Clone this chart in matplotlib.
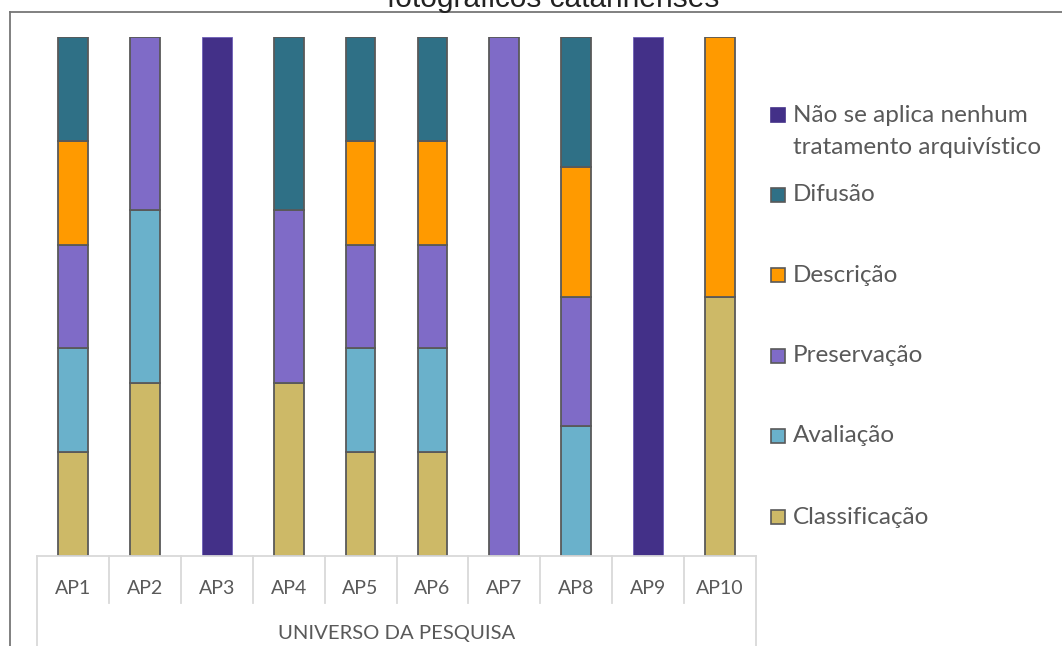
import numpy as np
import matplotlib
matplotlib.use("Agg")
import matplotlib.pyplot as plt
from matplotlib.patches import Rectangle
from matplotlib.lines import Line2D

# Tratamentos arquivísticos aplicados em cada acervo (1 = aplicado)
categories = ["AP1", "AP2", "AP3", "AP4", "AP5", "AP6", "AP7", "AP8", "AP9", "AP10"]
classificacao = [1, 1, 0, 1, 1, 1, 0, 0, 0, 1]
avaliacao = [1, 1, 0, 0, 1, 1, 0, 1, 0, 0]
preservacao = [1, 1, 0, 1, 1, 1, 1, 1, 0, 0]
descricao = [1, 0, 0, 0, 1, 1, 0, 1, 0, 1]
difusao = [1, 0, 0, 1, 1, 1, 0, 1, 0, 0]
nao_se_aplica = [0, 0, 1, 0, 0, 0, 0, 0, 1, 0]

series_names = ["Classificação", "Avaliação", "Preservação", "Descrição",
                "Difusão", "Não se aplica nenhum\ntratamento arquivístico"]
series_values = [classificacao, avaliacao, preservacao, descricao, difusao, nao_se_aplica]
series_colors = ["#CDB967", "#6AB1CB", "#7F6BC7", "#FF9A00", "#2F7086", "#433088"]
series_edges = ["#595959", "#595959", "#595959", "#595959", "#595959", "#6E5FB8"]

axis_title = "UNIVERSO DA PESQUISA"
chart_title = "fotográficos catarinenses"

W, H = 1062, 646
fig = plt.figure(figsize=(W / 100, H / 100), dpi=100)
fig.patch.set_facecolor("white")

def fx(px):
    return px / W

def fy(py):
    return 1 - py / H

text_font = ["Lato", "DejaVu Sans"]
text_color = "#595959"

# Plot area
ax = fig.add_axes([fx(37), fy(556), fx(756) - fx(37), fy(37) - fy(556)])
data = np.array(series_values, dtype=float)
pct = data / data.sum(axis=0) * 100
x = np.arange(len(categories))
bottom = np.zeros(len(categories))
for vals, color, edge in zip(pct, series_colors, series_edges):
    idx = vals > 0
    lw = 0.6 if edge != "#595959" else 1.3
    ax.bar(x[idx], vals[idx], bottom=bottom[idx], width=0.415, color=color,
           edgecolor=edge, linewidth=lw, zorder=3)
    bottom += vals
ax.set_xlim(-0.5, len(categories) - 0.5)
ax.set_ylim(0, 100)
ax.axis("off")

# Category axis with grouped labels
grid_color = "#D9D9D9"
left_px, right_px, axis_px = 37, 756, 556
step = (right_px - left_px) / len(categories)
fig.add_artist(Line2D([fx(left_px), fx(right_px)], [fy(axis_px), fy(axis_px)],
                      color=grid_color, lw=1.3))
for k in range(len(categories) + 1):
    xp = left_px + k * step
    end = 646 if k in (0, len(categories)) else 603
    fig.add_artist(Line2D([fx(xp), fx(xp)], [fy(axis_px), fy(end)],
                          color=grid_color, lw=1.3))
for k, cat in enumerate(categories):
    fig.text(fx(left_px + (k + 0.5) * step), fy(588), cat, ha="center", va="center",
             fontsize=14, color=text_color, family=text_font)
fig.text(fx((left_px + right_px) / 2), fy(634), axis_title, ha="center", va="center",
         fontsize=14.6, color=text_color, family=text_font)

# Legend
legend_rows = [517, 436, 356, 275, 195, 115]
for name, color, edge, yc in zip(series_names, series_colors, series_edges, legend_rows):
    s = 14
    ec = "#595959" if edge == "#595959" else color
    fig.add_artist(Rectangle((fx(771), fy(yc + s / 2)), fx(s), s / H,
                             facecolor=color, edgecolor=ec, lw=1.2))
    fig.text(fx(793), fy(yc), name.split("\n")[0], ha="left", va="center",
             fontsize=17.5, color=text_color, family=text_font)
    if "\n" in name:
        fig.text(fx(793), fy(yc + 32), name.split("\n")[1], ha="left", va="center",
                 fontsize=17.5, color=text_color, family=text_font)

# Chart frame and title
frame_color = "#767676"
fig.add_artist(Line2D([fx(9.5), fx(9.5)], [fy(12), 0], color=frame_color, lw=1.3))
fig.add_artist(Line2D([fx(9.5), 1], [fy(12), fy(12)], color=frame_color, lw=1.3))
fig.text(fx(553), fy(7), chart_title, ha="center", va="baseline",
         fontsize=21.5, color="#222222", family=["Liberation Sans", "DejaVu Sans"])

fig.savefig("out.png", dpi=100, facecolor="white")
